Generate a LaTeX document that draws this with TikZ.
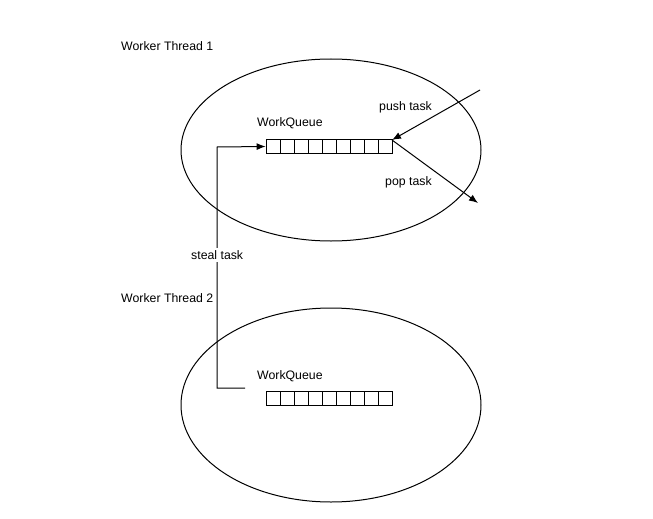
\documentclass[tikz,border=0pt]{standalone}
\usepackage{fontspec}
\setmainfont{Liberation Sans}
\usetikzlibrary{arrows.meta}
\begin{document}
\begin{tikzpicture}[x=1pt,y=-1pt,
  lbl/.style={font=\fontsize{12.3}{14}\selectfont, inner sep=0pt, anchor=west},
  cell/.style={draw, line width=0.8pt, minimum width=14pt, minimum height=14pt, inner sep=0pt},
  conn/.style={line width=1pt, -{Latex[length=9pt,width=7pt]}}]
\useasboundingbox (0,0) rectangle (653,519);
\draw[line width=1pt] (331,150) ellipse [x radius=150, y radius=91];
\draw[line width=1pt] (331,405) ellipse [x radius=150, y radius=97];
\node[lbl] (wt1) at (121,46) {Worker Thread 1};
\node[lbl] (wt2) at (121,298) {Worker Thread 2};
\node[lbl] (wq1) at (257,123) {WorkQueue};
\node[lbl] (wq2) at (257,376) {WorkQueue};
\foreach \i in {0,...,8} {
  \node[cell] (a\i) at (273+\i*14,146.5) {};
  \node[cell] (b\i) at (273+\i*14,398.5) {};
}
\coordinate (pin) at (480,90);
\coordinate (pout) at (478,203);
\coordinate (qend) at (392,140);
\draw[conn] (pin) -- (qend);
\draw[conn] (qend) -- (pout);
\node[lbl] (push) at (379,107) {push task};
\node[lbl] (pop) at (385,182) {pop task};
\coordinate (s0) at (245,388);
\coordinate (s1) at (217,388);
\coordinate (s2) at (217,147);
\draw[conn] (s0) -- (s1) -- (s2) -- (a0.west);
\node[lbl, fill=white, inner sep=2pt] (steal) at (189,255) {steal task};
\end{tikzpicture}
\end{document}
